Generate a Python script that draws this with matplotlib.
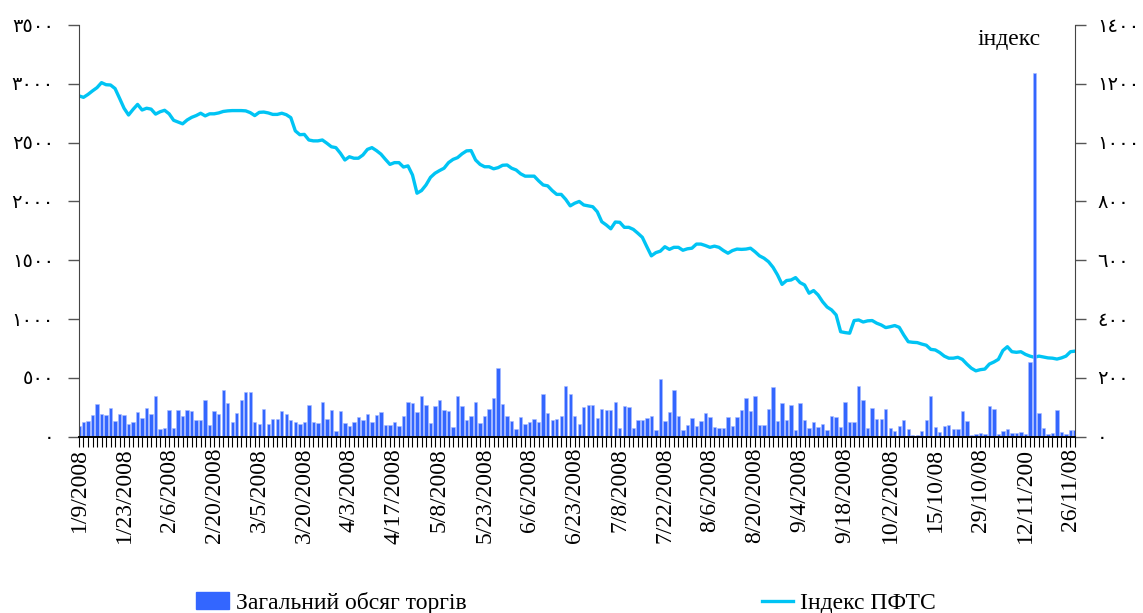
import matplotlib
matplotlib.use("Agg")
import matplotlib.pyplot as plt
from matplotlib.patches import Patch
from matplotlib.lines import Line2D

# ---------------- data ----------------
volume = [90, 127, 130, 186, 277, 192, 181, 240, 133, 192,
          181, 107, 121, 209, 158, 240, 192, 347, 68, 73,
          226, 73, 223, 172, 229, 220, 141, 141, 316, 96,
          215, 192, 396, 285, 124, 201, 308, 379, 384, 127,
          107, 234, 105, 150, 150, 215, 189, 138, 121, 107,
          124, 266, 127, 119, 291, 147, 229, 45, 215, 113,
          90, 127, 167, 141, 195, 124, 181, 206, 99, 99,
          127, 93, 175, 299, 288, 209, 350, 271, 113, 260,
          311, 223, 215, 79, 350, 260, 141, 175, 299, 116,
          175, 237, 328, 585, 277, 175, 133, 65, 164, 107,
          124, 150, 124, 367, 198, 141, 147, 175, 435, 367,
          175, 110, 249, 271, 271, 158, 232, 223, 223, 291,
          76, 260, 251, 76, 141, 141, 158, 175, 56, 494,
          133, 209, 396, 172, 59, 96, 155, 90, 133, 198,
          164, 85, 73, 73, 167, 88, 167, 226, 331, 215,
          350, 99, 99, 234, 421, 133, 288, 138, 271, 56,
          283, 141, 73, 127, 82, 110, 56, 172, 167, 79,
          297, 124, 127, 427, 308, 73, 240, 150, 150, 232,
          73, 48, 88, 138, 65, 14, 14, 48, 138, 350,
          79, 40, 93, 102, 68, 62, 215, 136, 14, 25,
          34, 23, 260, 237, 23, 51, 62, 31, 31, 40,
          23, 633, 3090, 198, 73, 20, 31, 226, 40, 23,
          54, 54]

pfts_index = [1159, 1154, 1164, 1176, 1187, 1204, 1197, 1196, 1184, 1151,
              1117, 1094, 1113, 1130, 1111, 1117, 1114, 1097, 1105, 1110,
              1098, 1076, 1070, 1064, 1077, 1086, 1092, 1100, 1091, 1098,
              1098, 1101, 1106, 1108, 1109, 1109, 1109, 1108, 1102, 1092,
              1103, 1104, 1101, 1096, 1096, 1100, 1095, 1085, 1040, 1027,
              1028, 1009, 1006, 1006, 1009, 998, 986, 983, 964, 941,
              952, 947, 947, 958, 977, 983, 973, 961, 943, 926,
              932, 932, 917, 921, 890, 828, 837, 856, 882, 896,
              905, 913, 932, 943, 949, 962, 972, 973, 941, 926,
              918, 918, 911, 915, 923, 924, 913, 907, 894, 886,
              886, 886, 870, 856, 853, 837, 824, 824, 807, 785,
              794, 800, 788, 785, 782, 765, 731, 720, 707, 730,
              729, 712, 712, 705, 692, 678, 646, 615, 626, 631,
              646, 637, 644, 644, 634, 639, 641, 655, 655, 650,
              644, 648, 644, 633, 624, 633, 638, 637, 638, 641,
              629, 615, 607, 595, 576, 550, 518, 531, 533, 541,
              524, 516, 488, 497, 482, 459, 441, 431, 414, 357,
              354, 352, 395, 397, 390, 394, 395, 386, 380, 371,
              374, 378, 372, 346, 323, 321, 320, 315, 311, 297,
              295, 286, 274, 267, 267, 270, 263, 247, 233, 224,
              228, 230, 247, 254, 263, 293, 306, 289, 287, 289,
              280, 274, 270, 274, 271, 268, 267, 264, 268, 274,
              289, 291]

date_labels = ['1/9/2008', '1/23/2008', '2/6/2008', '2/20/2008', '3/5/2008',
               '3/20/2008', '4/3/2008', '4/17/2008', '5/8/2008', '5/23/2008',
               '6/6/2008', '6/23/2008', '7/8/2008', '7/22/2008', '8/6/2008',
               '8/20/2008', '9/4/2008', '9/18/2008', '10/2/2008', '15/10/08',
               '29/10/08', '12/11/200', '26/11/08']
label_step = 10

left_ticks = [0, 500, 1000, 1500, 2000, 2500, 3000, 3500]
left_labels = ['٠', '٥٠٠', '١٠٠٠', '١٥٠٠', '٢٠٠٠', '٢٥٠٠', '٣٠٠٠', '٣٥٠٠']
right_ticks = [0, 200, 400, 600, 800, 1000, 1200, 1400]
right_labels = ['٠', '٢٠٠', '٤٠٠', '٦٠٠', '٨٠٠', '١٠٠٠', '١٢٠٠', '١٤٠٠']

series_names = ['Загальний обсяг торгів', 'Індекс ПФТС']
axis_note = 'індекс'

# ---------------- drawing ----------------
serif = ['Liberation Serif', 'DejaVu Serif', 'DejaVu Sans']
tickfont = ['Liberation Serif', 'DejaVu Sans']
bar_color = '#3366ff'
line_color = '#00c4f4'

fig = plt.figure(figsize=(11.43, 6.13), dpi=100)
ax = fig.add_axes([0.0691, 0.2876, 0.8714, 0.6716])
ax2 = ax.twinx()

x = list(range(len(volume)))
ax2.plot(x, pfts_index, color=line_color, lw=2.4, solid_joinstyle='round')
ax.bar(x, volume, width=0.75, color=bar_color, edgecolor='#a9bcff', linewidth=0.4)

ax.set_zorder(ax2.get_zorder() + 1)
ax.patch.set_visible(False)

ax.set_xlim(0, len(volume) - 1)
ax.set_ylim(0, 3500)
ax2.set_ylim(0, 1400)

for a in (ax, ax2):
    a.spines['top'].set_visible(False)
ax.spines['left'].set_color('#444444')
ax.spines['right'].set_visible(False)
ax2.spines['left'].set_visible(False)
ax2.spines['bottom'].set_visible(False)
ax2.spines['right'].set_color('#444444')
ax.spines['bottom'].set_color('black')
ax.spines['bottom'].set_linewidth(1.4)

ax.set_yticks(left_ticks)
ax.set_yticklabels(left_labels, family=tickfont, fontsize=14)
ax.tick_params(axis='y', direction='out', length=8, width=1, color='#555555', pad=10)
ax2.set_yticks(right_ticks)
ax2.set_yticklabels(right_labels, family=tickfont, fontsize=14)
ax2.tick_params(axis='y', direction='out', length=8, width=1, color='#555555', pad=8)

major_pos = [i * label_step for i in range(len(date_labels))]
ax.set_xticks(major_pos)
ax.set_xticklabels(date_labels, rotation=90, family=serif, fontsize=17, va='top')
ax.set_xticks(x, minor=True)
ax.tick_params(axis='x', which='both', direction='out', length=7, width=0.8, color='black', pad=1)

fig.text(978 / 1143, 1 - 40 / 613, axis_note, family=serif, fontsize=17,
         ha='left', va='center')

leg1 = fig.legend(handles=[Patch(facecolor=bar_color, edgecolor=bar_color)],
                  labels=[series_names[0]], loc='center left',
                  bbox_to_anchor=(196 / 1143, 1 - 603 / 613), frameon=False,
                  prop={'family': serif, 'size': 17}, handlelength=1.4,
                  handleheight=0.7, handletextpad=0.3, borderpad=0, borderaxespad=0)
leg2 = fig.legend(handles=[Line2D([0], [0], color=line_color, lw=2.4)],
                  labels=[series_names[1]], loc='center left',
                  bbox_to_anchor=(762 / 1143, 1 - 603 / 613), frameon=False,
                  prop={'family': serif, 'size': 17}, handlelength=1.3,
                  handletextpad=0.3, borderpad=0, borderaxespad=0)

fig.savefig('out.png', dpi=100)
